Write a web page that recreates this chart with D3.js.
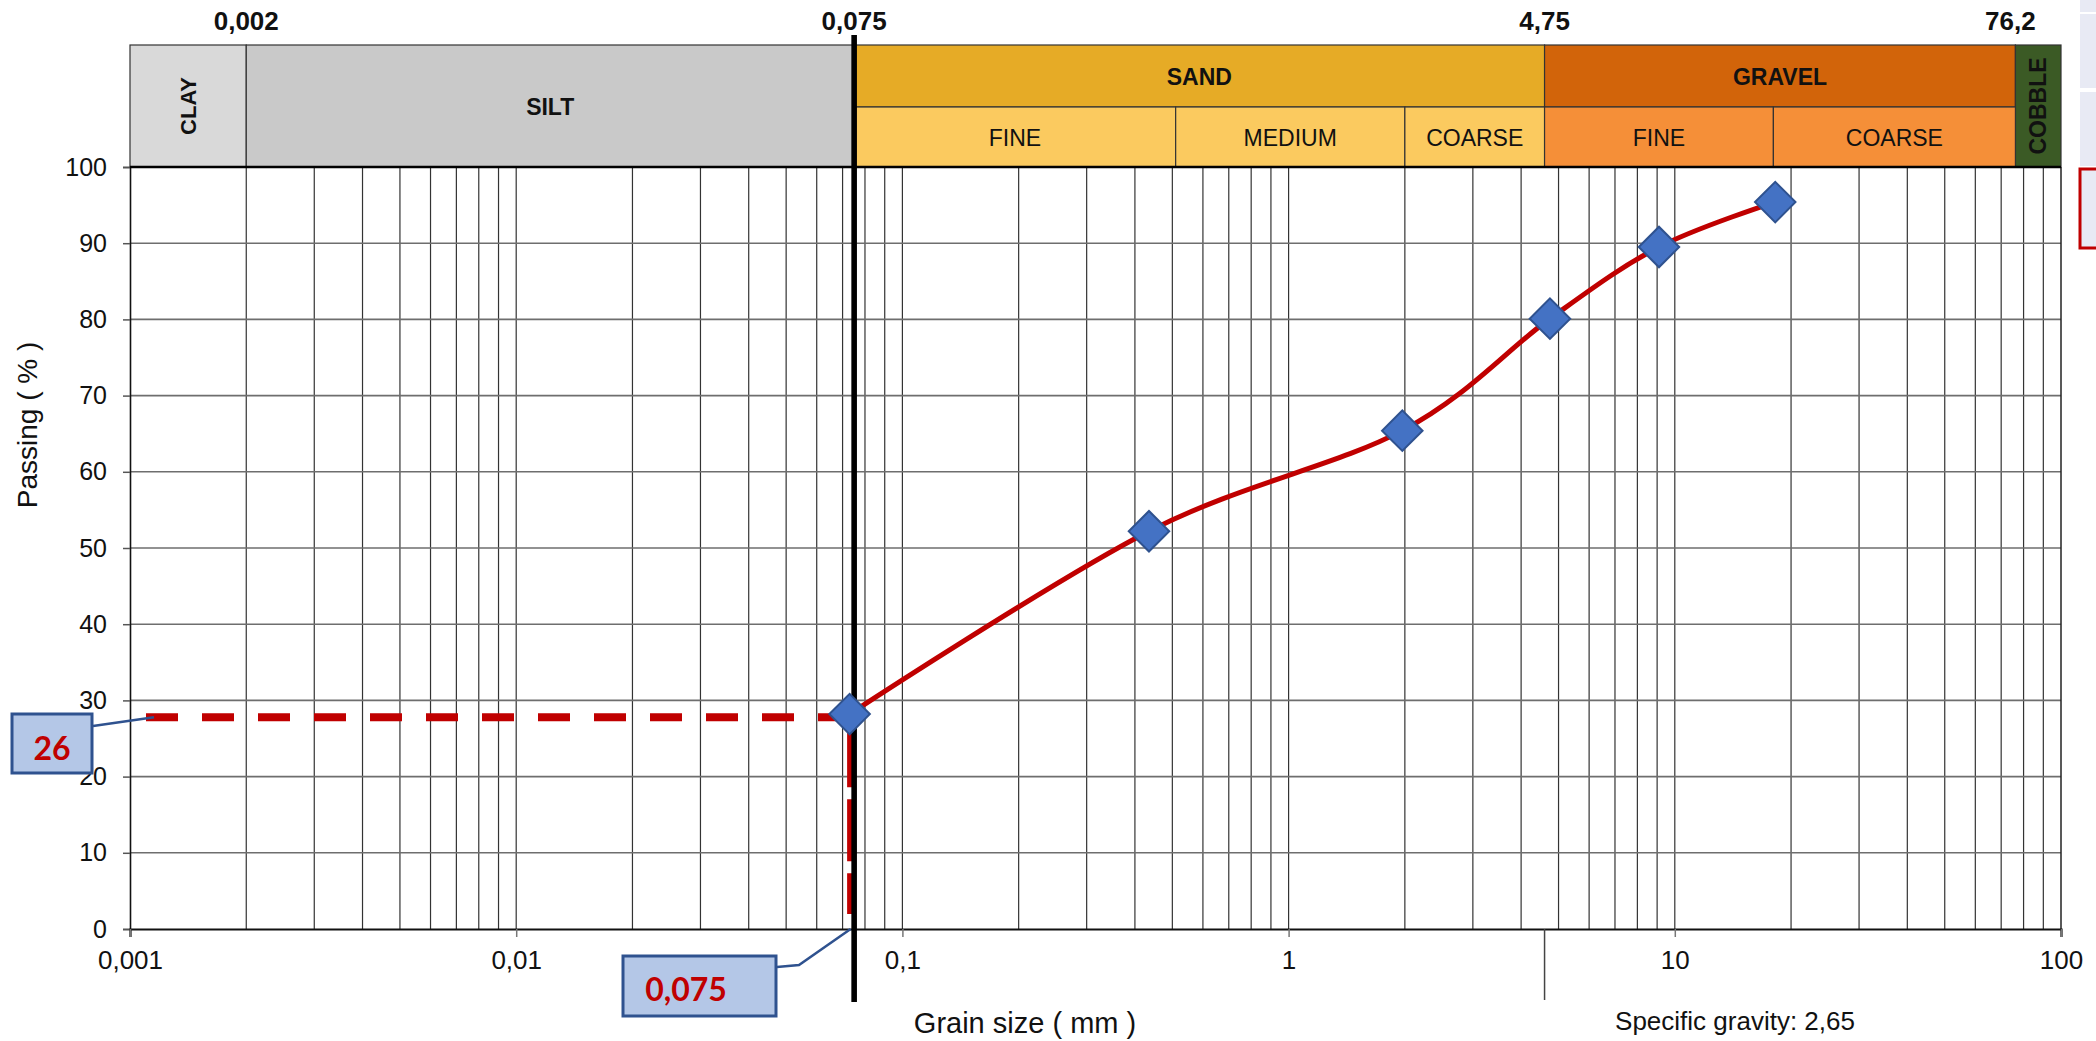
<!DOCTYPE html>
<html>
<head>
<meta charset="utf-8">
<script src="https://cdn.jsdelivr.net/npm/d3@7"></script>
<style>
  html, body { margin: 0; padding: 0; background: #fff; }
  svg { display: block; font-family: "Liberation Sans", Arial, sans-serif; }
</style>
</head>
<body>
<div id="chart"></div>
<script>
// ---- data ----
var grainSize = [0.073, 0.435, 1.97, 4.75, 9.1, 18.2];   // mm
var passing   = [28.2, 52.2, 65.4, 80.1, 89.5, 95.4];    // %

var finesPassing = 27.8;          // level of the dashed red line
var finesLabel = "26";
var finesSizeLabel = "0,075";

// soil classification bands (top row), limits as drawn in the picture
var zoneNames  = ["CLAY", "SILT", "SAND", "GRAVEL", "COBBLE"];
var zoneLimits = [0.001, 0.002, 0.075, 4.6, 76.2, 100];
// sub-bands for sand and gravel
var subNames  = ["FINE", "MEDIUM", "COARSE", "FINE", "COARSE"];
var subLimits = [0.075, 0.51, 2, 4.6, 18, 76.2];
// labels printed above the bands
var limitValues = [0.002, 0.075, 4.6, 76.2];
var limitLabels = ["0,002", "0,075", "4,75", "76,2"];

var yTicks = [0, 10, 20, 30, 40, 50, 60, 70, 80, 90, 100];
var xTicks = [0.001, 0.01, 0.1, 1, 10, 100];
var xTickLabels = ["0,001", "0,01", "0,1", "1", "10", "100"];

// ---- layout ----
var width = 2096, height = 1041;
var plot = { left: 130, right: 2061, top: 167, bottom: 929 };
var band = { top: 45, mid: 107 };

var zoneColor = { CLAY: "#d9d9d9", SILT: "#c9c9c9", SAND: "#e6ab26", GRAVEL: "#d2640a", COBBLE: "#3b5a25" };
var subColor = ["#fbca5f", "#fbca5f", "#fbca5f", "#f58f38", "#f58f38"];
var fullHeight = { CLAY: true, SILT: true, COBBLE: true };
var rotated = { CLAY: true, COBBLE: true };

var svg = d3.select("#chart").append("svg")
    .attr("width", width)
    .attr("height", height);

svg.append("rect").attr("width", width).attr("height", height).attr("fill", "#fff");

var x = d3.scaleLog().domain([0.001, 100]).range([plot.left, plot.right]);
var y = d3.scaleLinear().domain([0, 100]).range([plot.bottom, plot.top]);

// window edge leftovers on the right side
var side = svg.append("g");
side.append("rect").attr("x", 2080).attr("y", 0).attr("width", 16).attr("height", 12).attr("fill", "#e8eaf4");
side.append("rect").attr("x", 2080).attr("y", 14).attr("width", 16).attr("height", 74).attr("fill", "#e8eaf4");
side.append("rect").attr("x", 2080).attr("y", 92).attr("width", 16).attr("height", 74).attr("fill", "#e8eaf4");
side.append("rect").attr("x", 2080).attr("y", 169).attr("width", 20).attr("height", 79)
    .attr("fill", "#e8eaf4").attr("stroke", "#c00000").attr("stroke-width", 3);

// ---- grid ----
var grid = svg.append("g");
grid.selectAll("line.v")
    .data(x.ticks().filter(function (d) { return d > 0.001 && d < 100; }))
    .enter().append("line")
    .attr("x1", function (d) { return x(d); })
    .attr("x2", function (d) { return x(d); })
    .attr("y1", plot.top)
    .attr("y2", plot.bottom)
    .attr("stroke", "#333")
    .attr("stroke-width", 1.2);

grid.selectAll("line.h")
    .data(yTicks.filter(function (d) { return d > 0 && d < 100; }))
    .enter().append("line")
    .attr("x1", plot.left)
    .attr("x2", plot.right)
    .attr("y1", function (d) { return y(d); })
    .attr("y2", function (d) { return y(d); })
    .attr("stroke", "#6e6e6e")
    .attr("stroke-width", 1.6);

// right border
grid.append("line")
    .attr("x1", plot.right).attr("x2", plot.right)
    .attr("y1", plot.top).attr("y2", plot.bottom)
    .attr("stroke", "#222").attr("stroke-width", 1.5);

// ---- axes ----
var yAxis = svg.append("g")
    .attr("transform", "translate(" + plot.left + ",0)")
    .call(d3.axisLeft(y).tickValues(yTicks).tickSize(7).tickPadding(16));
yAxis.select(".domain").attr("stroke", "#111").attr("stroke-width", 1.6);
yAxis.selectAll(".tick line").attr("stroke", "#555").attr("stroke-width", 1.5);
yAxis.selectAll("text")
    .attr("font-family", "'Liberation Sans', Arial, sans-serif")
    .attr("font-size", 25)
    .attr("fill", "#111");

var xAxis = svg.append("g")
    .attr("transform", "translate(0," + plot.bottom + ")")
    .call(d3.axisBottom(x).tickValues(xTicks)
        .tickFormat(function (d, i) { return xTickLabels[i]; })
        .tickSize(8).tickPadding(14));
xAxis.select(".domain").attr("stroke", "#111").attr("stroke-width", 2.2);
xAxis.selectAll(".tick line").attr("stroke", "#777").attr("stroke-width", 1.5);
xAxis.selectAll("text")
    .attr("font-family", "'Liberation Sans', Arial, sans-serif")
    .attr("font-size", 26)
    .attr("fill", "#111");

// small marker below axis at the sand/gravel limit
svg.append("line")
    .attr("x1", x(zoneLimits[3])).attr("x2", x(zoneLimits[3]))
    .attr("y1", plot.bottom).attr("y2", 1000)
    .attr("stroke", "#444").attr("stroke-width", 1.5);

// ---- classification bands ----
var bands = svg.append("g");
zoneNames.forEach(function (name, i) {
    var x0 = x(zoneLimits[i]), x1 = x(zoneLimits[i + 1]);
    var y1 = fullHeight[name] ? plot.top : band.mid;
    bands.append("rect")
        .attr("x", x0).attr("y", band.top)
        .attr("width", x1 - x0).attr("height", y1 - band.top)
        .attr("fill", zoneColor[name])
        .attr("stroke", "#333").attr("stroke-width", 1.2);
    var cx = (x0 + x1) / 2, cy = (band.top + y1) / 2;
    var fs = name === "COBBLE" ? 23 : 22;
    if (rotated[name]) {
        bands.append("text")
            .attr("transform", "translate(" + (cx + fs * 0.36) + "," + cy + ") rotate(-90)")
            .attr("text-anchor", "middle")
            .attr("font-size", fs).attr("font-weight", "bold").attr("fill", "#111")
            .text(name);
    } else {
        bands.append("text")
            .attr("x", cx).attr("y", cy + 8.5)
            .attr("text-anchor", "middle")
            .attr("font-size", 23).attr("font-weight", "bold").attr("fill", "#111")
            .text(name);
    }
});

subNames.forEach(function (name, i) {
    var x0 = x(subLimits[i]), x1 = x(subLimits[i + 1]);
    bands.append("rect")
        .attr("x", x0).attr("y", band.mid)
        .attr("width", x1 - x0).attr("height", plot.top - band.mid)
        .attr("fill", subColor[i])
        .attr("stroke", "#333").attr("stroke-width", 1.2);
    bands.append("text")
        .attr("x", (x0 + x1) / 2).attr("y", (band.mid + plot.top) / 2 + 8.5)
        .attr("text-anchor", "middle")
        .attr("font-size", 23).attr("fill", "#111")
        .text(name);
});

// limit values above the bands
bands.selectAll("text.limit")
    .data(limitValues)
    .enter().append("text")
    .attr("x", function (d) { return x(d) - (d > 50 ? 5 : 0); })
    .attr("y", 30)
    .attr("text-anchor", "middle")
    .attr("font-size", 26).attr("font-weight", "bold").attr("fill", "#111")
    .text(function (d, i) { return limitLabels[i]; });

// plot top line over the band borders
svg.append("line")
    .attr("x1", plot.left).attr("x2", plot.right)
    .attr("y1", plot.top).attr("y2", plot.top)
    .attr("stroke", "#000").attr("stroke-width", 2.5);

// ---- dashed guide lines ----
svg.append("line")
    .attr("x1", 146).attr("x2", x(grainSize[0]) - 8)
    .attr("y1", y(finesPassing)).attr("y2", y(finesPassing))
    .attr("stroke", "#c00000").attr("stroke-width", 8)
    .attr("stroke-dasharray", "32,24");

svg.append("line")
    .attr("x1", x(grainSize[0])).attr("x2", x(grainSize[0]))
    .attr("y1", y(finesPassing) + 8).attr("y2", 914)
    .attr("stroke", "#c00000").attr("stroke-width", 5)
    .attr("stroke-dasharray", "62,12");

// thick line at 0,075 mm
svg.append("line")
    .attr("x1", x(0.075)).attr("x2", x(0.075))
    .attr("y1", 35).attr("y2", 1002)
    .attr("stroke", "#000").attr("stroke-width", 5.6);

// ---- grading curve ----
var pts = grainSize.map(function (d, i) { return [d, passing[i]]; });
var line = d3.line()
    .x(function (d) { return x(d[0]); })
    .y(function (d) { return y(d[1]); })
    .curve(d3.curveCatmullRom.alpha(0));

svg.append("path")
    .datum(pts)
    .attr("d", line)
    .attr("fill", "none")
    .attr("stroke", "#c00000")
    .attr("stroke-width", 5);

svg.selectAll("path.pt")
    .data(pts)
    .enter().append("path")
    .attr("d", d3.symbol().type(d3.symbolSquare).size(820))
    .attr("transform", function (d) { return "translate(" + x(d[0]) + "," + y(d[1]) + ") rotate(45)"; })
    .attr("fill", "#4472c4")
    .attr("stroke", "#2f528f")
    .attr("stroke-width", 2);

// ---- callouts ----
var callout = svg.append("g");
callout.append("polyline")
    .attr("points", [[93, 726], [154, y(finesPassing)]].join(" "))
    .attr("fill", "none").attr("stroke", "#2f528f").attr("stroke-width", 2.5);
callout.append("rect")
    .attr("x", 12).attr("y", 714).attr("width", 80).attr("height", 59)
    .attr("fill", "#b4c7e7").attr("stroke", "#2f528f").attr("stroke-width", 3);
callout.append("text")
    .attr("x", 52).attr("y", 760)
    .attr("text-anchor", "middle")
    .attr("font-family", "Lato, 'Open Sans', sans-serif")
    .attr("font-size", 32).attr("font-weight", "bold").attr("fill", "#c00000")
    .text(finesLabel);

callout.append("polyline")
    .attr("points", [[777, 967], [799, 965], [x(grainSize[0]) + 1, plot.bottom]].join(" "))
    .attr("fill", "none").attr("stroke", "#2f528f").attr("stroke-width", 2.5);
callout.append("rect")
    .attr("x", 623).attr("y", 956).attr("width", 153).attr("height", 60)
    .attr("fill", "#b4c7e7").attr("stroke", "#2f528f").attr("stroke-width", 3);
callout.append("text")
    .attr("x", 686).attr("y", 1001)
    .attr("text-anchor", "middle")
    .attr("font-family", "Lato, 'Open Sans', sans-serif")
    .attr("font-size", 32).attr("font-weight", "bold").attr("fill", "#c00000")
    .text(finesSizeLabel);

// ---- axis titles ----
svg.append("text")
    .attr("transform", "translate(37,425) rotate(-90)")
    .attr("text-anchor", "middle")
    .attr("font-size", 28).attr("fill", "#111")
    .text("Passing ( % )");

svg.append("text")
    .attr("x", 1025).attr("y", 1033)
    .attr("text-anchor", "middle")
    .attr("font-size", 29).attr("fill", "#111")
    .text("Grain size ( mm )");

svg.append("text")
    .attr("x", 1735).attr("y", 1030)
    .attr("text-anchor", "middle")
    .attr("font-size", 26).attr("fill", "#111")
    .text("Specific gravity: 2,65");
</script>
</body>
</html>
